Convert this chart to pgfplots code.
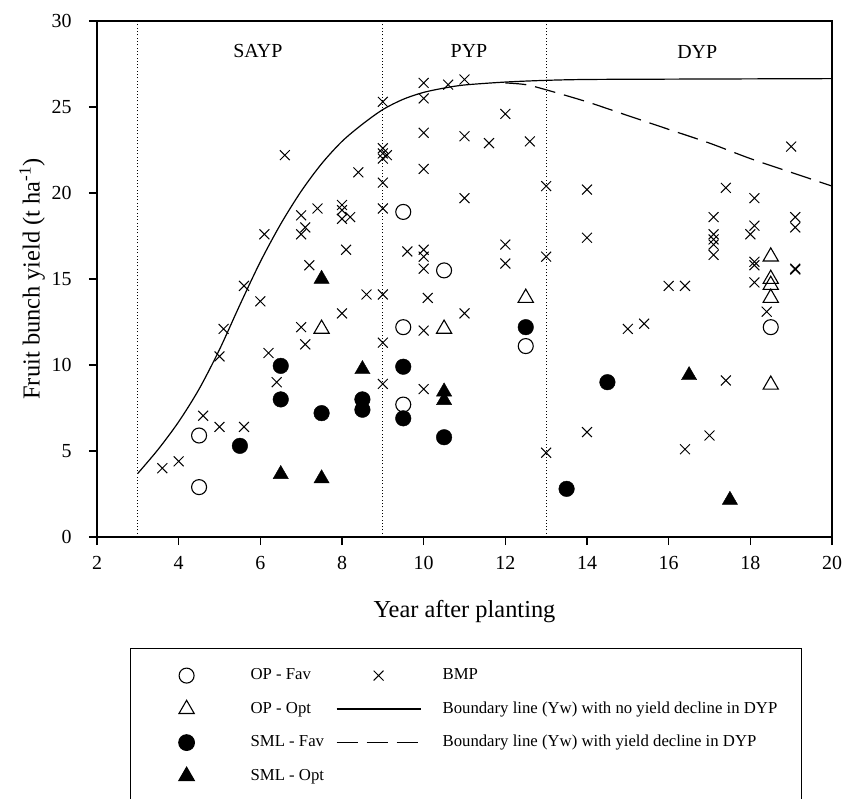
\documentclass[border=0pt]{standalone}
\usepackage{fontspec}
\setmainfont{Liberation Serif}
\usepackage{pgfplots}
\pgfplotsset{compat=1.18}
\begin{document}
\begin{tikzpicture}
\begin{axis}[
  at={(0,0)}, anchor=south west,
  scale only axis, width=735bp, height=516bp,
  xmin=2, xmax=20, ymin=0, ymax=30,
  xtick={2,4,...,20}, ytick={0,5,...,30},
  tick align=outside, tick pos=left,
  major tick length=8bp,
  axis line style={line width=1.3bp},
  every tick/.style={black, line width=1.3bp},
  tick label style={font=\fontsize{20}{24}\selectfont},
  xticklabel style={yshift=-8bp},
  yticklabel style={xshift=-14bp},
  /pgf/number format/assume math mode=true,
  label style={font=\fontsize{24.5}{28}\selectfont},
  xlabel={Year after planting},
  ylabel={Fruit bunch yield (t ha\textsuperscript{-1})},
  xlabel style={at={(axis description cs:0.5,-0.1453)}, anchor=center},
  ylabel style={at={(axis description cs:-0.0884,0.5)}, anchor=center},
  clip=false,
  legend columns=2,
  legend style={
    at={(axis description cs:0.0449,-0.2151)}, anchor=north west,
    draw=black, line width=1.2bp,
    inner xsep=14bp, inner ysep=19bp,
    font=\fontsize{16.8}{19}\selectfont,
    row sep=17.5bp,
    nodes={inner sep=0pt, text height=12bp, text depth=4bp},
    /tikz/every odd column/.style={column sep=22bp},
    /tikz/every even column/.style={column sep=14bp},
  },
  legend cell align=left,
  markimg/.style={legend image code/.code={\pgfpathrectangle{\pgfpoint{0bp}{-8bp}}{\pgfpoint{84bp}{16bp}}\pgfusepath{use as bounding box}\draw[##1,only marks] plot coordinates {(42bp,0bp)};}},
  lineimg/.style={legend image code/.code={\pgfpathrectangle{\pgfpoint{0bp}{-8bp}}{\pgfpoint{84bp}{16bp}}\pgfusepath{use as bounding box}\draw[##1] (0bp,0bp) -- (84bp,0bp);}},
]
% period separators
\addplot[forget plot, line width=1bp, dash pattern=on 1bp off 2.3bp] coordinates {(3,0) (3,30)};
\addplot[forget plot, line width=1bp, dash pattern=on 1bp off 2.3bp] coordinates {(9,0) (9,30)};
\addplot[forget plot, line width=1bp, dash pattern=on 1bp off 2.3bp] coordinates {(13,0) (13,30)};

% OP - Fav
\addplot[only marks, mark=o, mark size=7.5bp, line width=1.1bp, markimg] coordinates {
(4.5,5.9) (4.5,2.9) (9.5,18.9) (10.5,15.5) (9.5,12.2) (9.5,7.7) (12.5,11.1) (18.5,12.2)};
\addlegendentry{\makebox[72bp][l]{OP - Fav}}

% BMP
\addplot[only marks, mark=x, mark size=7bp, line width=1bp, markimg] coordinates {
(3.6,4.0) (4.0,4.4) (4.6,7.05) (5.0,6.4) (5.6,6.4) (5.0,10.5) (5.1,12.1) (5.6,14.6)
(6.0,13.7) (6.2,10.7) (6.4,9.0) (7.0,12.2) (7.1,11.2) (8.0,13.0) (8.6,14.1) (9.0,14.1)
(9.0,11.3) (9.0,8.9) (6.6,22.2) (9.0,25.3) (9.0,22.6) (9.0,22.3) (9.1,22.2) (9.0,22.0)
(8.4,21.2) (9.0,20.6) (9.0,19.1) (7.4,19.1) (7.0,18.7) (7.1,18.0) (7.0,17.6) (6.1,17.6)
(8.0,19.3) (8.0,19.0) (8.0,18.5) (8.2,18.6) (8.1,16.7) (7.2,15.8)
(10.0,26.4) (10.6,26.3) (11.0,26.6) (10.0,25.5) (12.0,24.6) (10.0,23.5) (11.0,23.3)
(11.6,22.9) (12.6,23.0) (10.0,21.4) (13.0,20.4) (14.0,20.2) (11.0,19.7) (14.0,17.4)
(9.6,16.6) (10.0,16.7) (10.0,16.3) (10.0,15.6) (12.0,17.0) (12.0,15.9) (13.0,16.3)
(10.1,13.9) (11.0,13.0) (10.0,12.0) (10.0,8.6) (13.0,4.9) (14.0,6.1)
(19.0,22.7) (17.4,20.3) (18.1,19.7) (17.1,18.6) (19.1,18.6) (19.1,18.0) (18.1,18.1)
(18.0,17.6) (17.1,17.6) (17.1,17.3) (17.1,17.0) (17.1,16.4) (18.1,16.0) (18.1,15.8)
(19.1,15.6) (19.1,15.55) (16.0,14.6) (16.4,14.6) (15.0,12.1) (15.4,12.4) (18.1,14.8)
(18.4,13.1) (17.4,9.1) (17.0,5.9) (16.4,5.1)};
\addlegendentry{\makebox[345bp][l]{BMP}}

% OP - Opt
\addplot[only marks, mark=triangle, mark size=8.8bp, line width=1.1bp, markimg] coordinates {
(7.5,12.1) (10.5,12.1) (12.5,13.9) (18.5,16.3) (18.5,15.0) (18.5,14.65) (18.5,13.9) (18.5,8.85)};
\addlegendentry{\makebox[72bp][l]{OP - Opt}}

% Boundary line, no decline
\addplot[smooth, tension=0.5, line width=1.2bp, black, lineimg] coordinates {
(3,3.7) (3.5,5.1) (4.0,6.7) (4.5,8.6) (5.0,10.9) (5.5,13.5) (6.0,16.0) (6.5,18.2)
(7.0,20.1) (7.5,21.7) (8.0,23.0) (8.5,24.0) (9.0,24.85) (9.5,25.45) (10.0,25.85)
(10.5,26.1) (11.0,26.28) (12.0,26.45) (13.0,26.55) (14.0,26.6) (16.0,26.62) (20.0,26.65)};
\addlegendentry{\makebox[345bp][l]{Boundary line (Yw) with no yield decline in DYP}}

% SML - Fav
\addplot[only marks, mark=*, mark size=7.8bp, fill=black, draw=black, markimg] coordinates {
(5.5,5.3) (6.5,9.95) (6.5,8.0) (7.5,7.2) (8.5,8.0) (8.5,7.4) (9.5,9.9) (9.5,6.9)
(10.5,5.8) (12.5,12.2) (14.5,9.0) (13.5,2.8)};
\addlegendentry{\makebox[72bp][l]{SML - Fav}}

% Boundary line, with decline
\addplot[smooth, tension=0.5, line width=1.2bp, black, dash pattern=on 21bp off 9bp, lineimg] coordinates {
(12.0,26.4) (12.5,26.3) (13.0,26.0) (14.0,25.3) (15.0,24.5) (16.0,23.7) (17.0,22.9)
(18.0,22.0) (19.0,21.2) (20.0,20.4)};
\addlegendentry{\makebox[345bp][l]{Boundary line (Yw) with yield decline in DYP}}

% SML - Opt
\addplot[only marks, mark=triangle*, mark size=8.8bp, fill=black, draw=black, markimg] coordinates {
(7.5,15.0) (8.5,9.75) (6.5,3.65) (7.5,3.4) (10.5,8.45) (10.5,7.95) (16.5,9.4) (17.5,2.15)};
\addlegendentry{\makebox[72bp][l]{SML - Opt}}

\node[font=\fontsize{20}{24}\selectfont] at (axis cs:5.94,28.27) {SAYP};
\node[font=\fontsize{20}{24}\selectfont] at (axis cs:11.11,28.27) {PYP};
\node[font=\fontsize{20}{24}\selectfont] at (axis cs:16.7,28.2) {DYP};
\end{axis}
\pgfresetboundingbox
\path[use as bounding box] (-97bp,-262bp) rectangle (746bp,537bp);
\end{tikzpicture}
\end{document}
